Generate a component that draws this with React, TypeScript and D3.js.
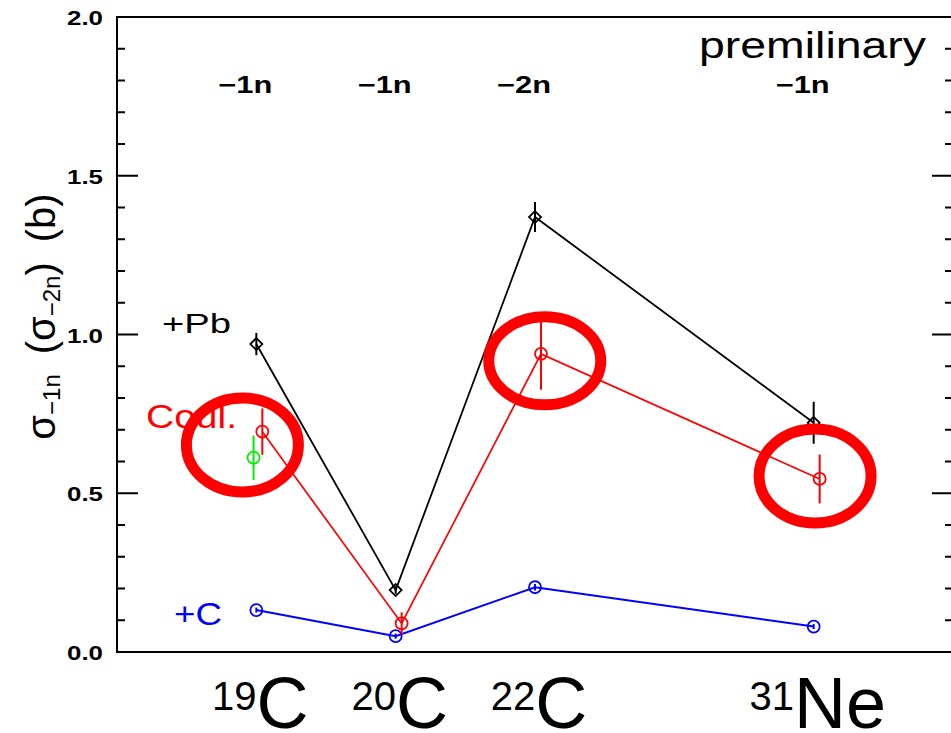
import React, { useEffect, useRef } from "react";
import * as d3 from "d3";

// nuclei along the x axis (position index, mass number, element, removal channel)
const POSITIONS = [1, 2, 3, 5];
const MASS = ["19", "20", "22", "31"];
const ELEMENT = ["C", "C", "C", "Ne"];
const CHANNEL = ["\u22121n", "\u22121n", "\u22122n", "\u22121n"];

// +Pb target (black diamonds)
const PB = [0.97, 0.195, 1.37, 0.722];
const PB_ERR = [0.035, 0.012, 0.047, 0.066];

// Coulomb part (red circles)
const COUL = [0.694, 0.09, 0.939, 0.545];
const COUL_ERR = [0.073, 0.035, 0.113, 0.077];

// +C target (blue circles)
const CARBON = [0.132, 0.05, 0.204, 0.08];
const CARBON_ERR = [0.008, 0.008, 0.01, 0.008];

// extra green point at 19C
const GREEN_POS = [1];
const GREEN = [0.612];
const GREEN_ERR = [0.07];

// hand-drawn highlight ellipses (data coords)
const HIGHLIGHT_X = [0.9, 3.07, 5.01];
const HIGHLIGHT_Y = [0.652, 0.917, 0.554];

const Y_MAJOR = [0, 0.5, 1.0, 1.5, 2.0];
const Y_MINOR = d3.range(0, 21).map(i => i / 10);

const FONT = "'Liberation Sans', Arial, Helvetica, sans-serif";

export default function App() {
  const svgRef = useRef<SVGSVGElement>(null);

  useEffect(() => {
    const width = 951;
    const height = 733;
    const left = 117, right = 953, top = 17, bottom = 652;

    const svg = d3.select(svgRef.current);
    svg.selectAll("*").remove();
    svg.attr("width", width).attr("height", height).attr("viewBox", `0 0 ${width} ${height}`);

    const x = d3.scaleLinear().domain([0, 6]).range([left, right]);
    const y = d3.scaleLinear().domain([0, 2]).range([bottom, top]);

    const g = svg.append("g").style("font-family", FONT);

    // frame
    g.append("rect")
      .attr("x", left).attr("y", top)
      .attr("width", right - left).attr("height", bottom - top)
      .attr("fill", "none").attr("stroke", "#000").attr("stroke-width", 2);

    // y ticks, both sides pointing inward
    const isMajor = (v: number) => Math.abs(v * 2 - Math.round(v * 2)) < 1e-6;
    Y_MINOR.forEach(v => {
      const len = isMajor(v) ? 21 : 8;
      g.append("line")
        .attr("x1", left).attr("x2", left + len)
        .attr("y1", y(v)).attr("y2", y(v))
        .attr("stroke", "#000").attr("stroke-width", 2);
      g.append("line")
        .attr("x1", right).attr("x2", right - len)
        .attr("y1", y(v)).attr("y2", y(v))
        .attr("stroke", "#000").attr("stroke-width", 2);
    });

    g.selectAll(".ylab")
      .data(Y_MAJOR)
      .join("text")
      .attr("x", 67)
      .attr("y", d => y(d) + 8)
      .attr("textLength", 36).attr("lengthAdjust", "spacingAndGlyphs")
      .style("font-size", "21px").style("font-weight", 700)
      .text(d => d.toFixed(1));

    // y axis title
    const yt = g.append("text")
      .attr("transform", `translate(55,${(top + bottom) / 2 - 18}) rotate(-90)`)
      .attr("text-anchor", "middle")
      .style("font-size", "40px");
    yt.append("tspan").text("\u03c3");
    yt.append("tspan").attr("dy", 5).style("font-size", "24px").text("\u22121n");
    yt.append("tspan").attr("dy", -5).text("\u2002(\u03c3");
    yt.append("tspan").attr("dy", 5).style("font-size", "24px").text("\u22122n");
    yt.append("tspan").attr("dy", -5).text(")\u2002(b)");

    const line = d3.line<[number, number]>().x(d => x(d[0])).y(d => y(d[1]));

    const drawSeries = (
      vals: number[], errs: number[], pos: number[], dx: number,
      color: string, marker: "diamond" | "circle", lw: number, connect: boolean
    ) => {
      if (connect) {
        g.append("path")
          .datum(vals.map((v, i) => [pos[i] + dx, v] as [number, number]))
          .attr("d", line)
          .attr("fill", "none").attr("stroke", color).attr("stroke-width", lw);
      }
      vals.forEach((v, i) => {
        const cx = x(pos[i] + dx);
        g.append("line")
          .attr("x1", cx).attr("x2", cx)
          .attr("y1", y(v - errs[i])).attr("y2", y(v + errs[i]))
          .attr("stroke", color).attr("stroke-width", 2);
        if (marker === "diamond") {
          const s = 6;
          const cy = y(v);
          g.append("path")
            .attr("d", `M${cx},${cy - s}L${cx + s},${cy}L${cx},${cy + s}L${cx - s},${cy}Z`)
            .attr("fill", "none").attr("stroke", color).attr("stroke-width", 1.8);
        } else {
          g.append("circle")
            .attr("cx", cx).attr("cy", y(v)).attr("r", 6)
            .attr("fill", "none").attr("stroke", color).attr("stroke-width", 1.8);
        }
      });
    };

    drawSeries(CARBON, CARBON_ERR, POSITIONS, 0, "#0000ff", "circle", 2, true);
    drawSeries(PB, PB_ERR, POSITIONS, 0, "#000000", "diamond", 1.8, true);
    drawSeries(COUL, COUL_ERR, POSITIONS, 0.043, "#ff0000", "circle", 1.7, true);
    drawSeries(GREEN, GREEN_ERR, GREEN_POS, -0.02, "#00ee00", "circle", 2, false);

    // series labels
    g.append("text")
      .attr("x", 162).attr("y", 333)
      .attr("textLength", 69).attr("lengthAdjust", "spacingAndGlyphs")
      .style("font-size", "27px")
      .text("+Pb");
    g.append("text")
      .attr("x", 146).attr("y", 428)
      .attr("textLength", 91).attr("lengthAdjust", "spacingAndGlyphs")
      .attr("fill", "#ff0000")
      .style("font-size", "34px")
      .text("Coul.");
    g.append("text")
      .attr("x", 174).attr("y", 625)
      .attr("textLength", 48).attr("lengthAdjust", "spacingAndGlyphs")
      .attr("fill", "#0000ff")
      .style("font-size", "32px")
      .text("+C");

    // highlight ellipses (drawn over the labels, as in the original)
    g.selectAll(".hl")
      .data(HIGHLIGHT_X)
      .join("ellipse")
      .attr("cx", d => x(d))
      .attr("cy", (d, i) => y(HIGHLIGHT_Y[i]))
      .attr("rx", 56)
      .attr("ry", (d, i) => (i === 1 ? 44 : 47))
      .attr("fill", "none")
      .attr("stroke", "#ff0000")
      .attr("stroke-width", 11);

    // channel labels
    g.selectAll(".chan")
      .data(CHANNEL)
      .join("text")
      .attr("x", (d, i) => x(POSITIONS[i]) - 38)
      .attr("y", 93)
      .attr("textLength", 54).attr("lengthAdjust", "spacingAndGlyphs")
      .style("font-size", "23px").style("font-weight", 700)
      .text(d => d);

    g.append("text")
      .attr("x", 699).attr("y", 58)
      .attr("textLength", 227).attr("lengthAdjust", "spacingAndGlyphs")
      .style("font-size", "37px")
      .text("premilinary");

    // nucleus labels
    POSITIONS.forEach((p, i) => {
      const t = g.append("text")
        .attr("x", x(p) + 4).attr("y", 728)
        .attr("text-anchor", "middle");
      t.append("tspan").attr("dy", -18).style("font-size", "40px").text(MASS[i]);
      t.append("tspan").attr("dy", 18).style("font-size", "72px").text(ELEMENT[i]);
    });
  }, []);

  return (
    <svg
      ref={svgRef}
      style={{ position: "fixed", left: 0, top: 0, background: "#fff" }}
    />
  );
}
